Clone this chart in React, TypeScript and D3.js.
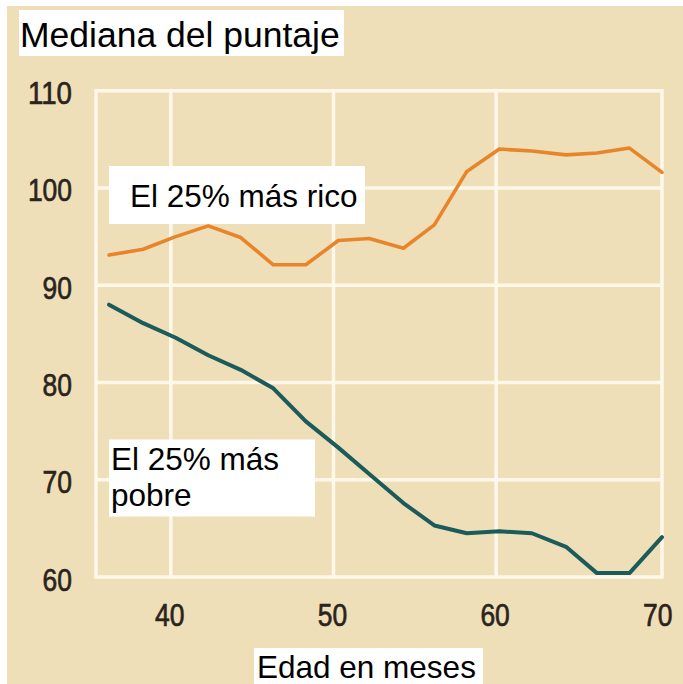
import React from "react";
import * as d3 from "d3";

const months = [36.2, 38.3, 40.3, 42.3, 44.3, 46.3, 48.3, 50.3, 52.2, 54.3, 56.2, 58.2, 60.2, 62.2, 64.3, 66.2, 68.2, 70.2];
const richest = [93.1, 93.7, 95.0, 96.1, 94.9, 92.1, 92.1, 94.6, 94.8, 93.8, 96.2, 101.7, 104.0, 103.8, 103.4, 103.6, 104.1, 101.6];
const poorest = [88.0, 86.1, 84.6, 82.8, 81.3, 79.4, 76.0, 73.3, 70.6, 67.6, 65.3, 64.5, 64.7, 64.5, 63.1, 60.4, 60.4, 64.1];
const xTicks = [40, 50, 60, 70];
const yTicks = [60, 70, 80, 90, 100, 110];
const xGrid = [40, 50, 60];
const title = "Mediana del puntaje";
const xTitle = "Edad en meses";
const richLabel = ["El 25% más rico"];
const poorLabel = ["El 25% más", "pobre"];

const W = 683;
const H = 684;

export default function App() {
  const x = d3.scaleLinear().domain([35.4, 70.2]).range([96, 662]);
  const y = d3.scaleLinear().domain([60, 110]).range([577, 90.7]);
  const line = d3
    .line<number>()
    .x((_, i) => x(months[i]))
    .y((d) => y(d));

  const bg = "#EEDFB9";
  const grid = "#FFF8EA";
  const tickColor = "#2B241B";
  const tickFont = "'Liberation Sans', Arial, Helvetica, sans-serif";
  const labelFont = "'Liberation Sans', Arial, Helvetica, sans-serif";

  return (
    <div style={{ position: "fixed", left: 0, top: 0, width: W, height: H }}>
      <svg width={W} height={H} viewBox={`0 0 ${W} ${H}`} style={{ display: "block" }}>
        <rect x={0} y={0} width={W} height={H} fill="#FFFFFF" />
        <rect x={7} y={6} width={W - 7} height={H - 6} fill={bg} />

        {/* horizontal gridlines incl. frame */}
        {yTicks.map((t) => (
          <line key={"h" + t} x1={x(35.4)} x2={x(70.2)} y1={y(t)} y2={y(t)} stroke={grid} strokeWidth={3.5} />
        ))}
        {/* vertical gridlines + frame */}
        {[35.4, ...xGrid, 70.2].map((t) => (
          <line key={"v" + t} x1={x(t)} x2={x(t)} y1={y(110) - 1.75} y2={y(60) + 1.75} stroke={grid} strokeWidth={3.5} />
        ))}

        {/* series */}
        <path d={line(richest) || ""} fill="none" stroke="#E8852B" strokeWidth={3.6} strokeLinejoin="round" strokeLinecap="round" />
        <path d={line(poorest) || ""} fill="none" stroke="#1B5B59" strokeWidth={4} strokeLinejoin="round" strokeLinecap="round" />

        {/* y tick labels */}
        {yTicks.map((t) => {
          const s = String(t);
          return (
            <text
              key={"yt" + t}
              x={72}
              y={y(t) + 13.5}
              textAnchor="end"
              fontFamily={tickFont}
              fontSize={32}
              fill={tickColor}
              stroke={tickColor}
              strokeWidth={0.7}
              textLength={s.length * 14.7}
              lengthAdjust="spacingAndGlyphs"
            >
              {s}
            </text>
          );
        })}
        {/* x tick labels */}
        {xTicks.map((t) => {
          const s = String(t);
          return (
            <text
              key={"xt" + t}
              x={x(t) - 1}
              y={626}
              textAnchor="middle"
              fontFamily={tickFont}
              fontSize={32}
              fill={tickColor}
              stroke={tickColor}
              strokeWidth={0.7}
              textLength={s.length * 14.7}
              lengthAdjust="spacingAndGlyphs"
            >
              {s}
            </text>
          );
        })}

        {/* title */}
        <rect x={19} y={10} width={325} height={46} fill="#FFFFFF" />
        <text x={20} y={47} fontFamily={labelFont} fontSize={35.5} fill="#000">
          {title}
        </text>

        {/* x axis title */}
        <rect x={254} y={648} width={229} height={36} fill="#FFFFFF" />
        <text x={257} y={678} fontFamily={labelFont} fontSize={31.5} fill="#000">
          {xTitle}
        </text>

        {/* rich label */}
        <rect x={109} y={166} width={256} height={58} fill="#FFFFFF" />
        {richLabel.map((l, i) => (
          <text key={"r" + i} x={130} y={207} fontFamily={labelFont} fontSize={31.5} fill="#000">
            {l}
          </text>
        ))}

        {/* poor label */}
        <rect x={109} y={439.5} width={206} height={77} fill="#FFFFFF" />
        {poorLabel.map((l, i) => (
          <text key={"p" + i} x={111} y={470 + i * 36} fontFamily={labelFont} fontSize={31.5} fill="#000">
            {l}
          </text>
        ))}
      </svg>
    </div>
  );
}
